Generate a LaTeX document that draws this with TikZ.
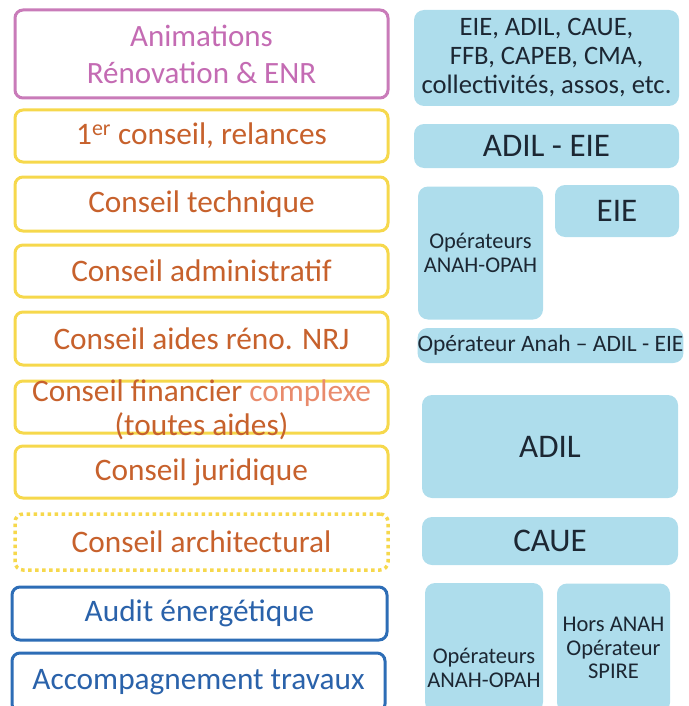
\documentclass[tikz,border=0pt]{standalone}
\usepackage{fontspec}
\setmainfont{Carlito}
\definecolor{pinkline}{HTML}{C97BB9}
\definecolor{pinktext}{HTML}{C46BB3}
\definecolor{yellowline}{HTML}{F6D84C}
\definecolor{orangetext}{HTML}{C7612C}
\definecolor{salmontext}{HTML}{E98B6C}
\definecolor{blueline}{HTML}{2D6DB6}
\definecolor{bluetext}{HTML}{2A62AA}
\definecolor{skyfill}{HTML}{AEDDEC}
\definecolor{darktext}{HTML}{1C2733}
\begin{document}
\begin{tikzpicture}[x=1pt,y=-1pt,
  every node/.style={inner sep=0pt, outer sep=0pt, align=center},
  leftbox/.style={draw, line width=3pt, rounded corners=8pt, fill=white},
  pinkbox/.style={leftbox, draw=pinkline, text=pinktext, font=\fontsize{31}{37}\selectfont},
  yellowbox/.style={leftbox, draw=yellowline, text=orangetext, font=\fontsize{31.3}{35}\selectfont},
  dottedbox/.style={yellowbox, line width=3.5pt, dash pattern=on 3.5pt off 3.5pt},
  bluebox/.style={leftbox, draw=blueline, text=bluetext, font=\fontsize{31.3}{35}\selectfont},
  skybox/.style={fill=skyfill, rounded corners=10pt, text=darktext},
  bigsky/.style={skybox, font=\fontsize{33}{36}\selectfont},
  midsky/.style={skybox, font=\fontsize{26.6}{29}\selectfont},
  smallsky/.style={skybox, font=\fontsize{22.5}{23.5}\selectfont},
]
\useasboundingbox (0,0) rectangle (688,706);
\clip (0,0) rectangle (688,706);

% left column: kinds of advice
\node[pinkbox, minimum width=373pt, minimum height=88pt] (anim) at (201.5,54)
  {Animations\\Rénovation \& ENR};
\node[yellowbox, minimum width=373pt, minimum height=52pt] (premier) at (201.5,136)
  {1\textsuperscript{er} conseil, relances};
\node[yellowbox, minimum width=373pt, minimum height=54pt] (tech) at (201.5,204)
  {Conseil technique};
\node[yellowbox, minimum width=373pt, minimum height=52pt] (admin) at (201.5,271)
  {Conseil administratif};
\node[yellowbox, minimum width=373pt, minimum height=53pt] (aides) at (201.5,338.5)
  {Conseil aides réno. NRJ};
\node[yellowbox, minimum width=373pt, minimum height=52pt] (fin) at (201.5,407) {};
\node[text=orangetext, font=\fontsize{31.3}{34}\selectfont] (fintxt) at (201.5,410)
  {Conseil financier \textcolor{salmontext}{complexe}\\(toutes aides)};
\node[yellowbox, minimum width=373pt, minimum height=52pt] (jur) at (201.5,472)
  {Conseil juridique};
\node[dottedbox, minimum width=373pt, minimum height=56pt] (archi) at (201.5,542)
  {Conseil architectural};
\node[bluebox, minimum width=375pt, minimum height=53pt] (audit) at (199.5,613.5)
  {Audit énergétique};
\node[bluebox, minimum width=373pt, minimum height=59pt] (accomp) at (198.5,682.5)
  {Accompagnement travaux};

% right column: who gives it
\node[midsky, minimum width=265pt, minimum height=96pt] (acteurs) at (546.5,58)
  {EIE, ADIL, CAUE,\\FFB, CAPEB, CMA,\\collectivités, assos, etc.};
\node[bigsky, minimum width=265pt, minimum height=44pt] (adileie) at (546.5,146)
  {ADIL - EIE};
\node[smallsky, minimum width=125pt, minimum height=133pt] (opah1) at (480.5,253)
  {Opérateurs\\ANAH-OPAH};
\node[bigsky, minimum width=124pt, minimum height=52pt] (eie) at (617,211)
  {EIE};
\node[skybox, font=\fontsize{23.5}{26}\selectfont, minimum width=265pt, minimum height=35pt] (anahadil) at (550.5,345.5)
  {Opérateur Anah -- ADIL - EIE};
\node[bigsky, minimum width=256pt, minimum height=103pt] (adil) at (550,446.5)
  {ADIL};
\node[bigsky, minimum width=256pt, minimum height=48pt] (caue) at (550,541)
  {CAUE};
\node[smallsky, minimum width=118pt, minimum height=129pt] (opah2) at (484,647.5) {};
\node[smallsky, fill=none] (opah2txt) at (484,668)
  {Opérateurs\\ANAH-OPAH};
\node[smallsky, minimum width=113pt, minimum height=129pt] (spire) at (613.5,648)
  {Hors ANAH\\Opérateur\\SPIRE};
\end{tikzpicture}
\end{document}
